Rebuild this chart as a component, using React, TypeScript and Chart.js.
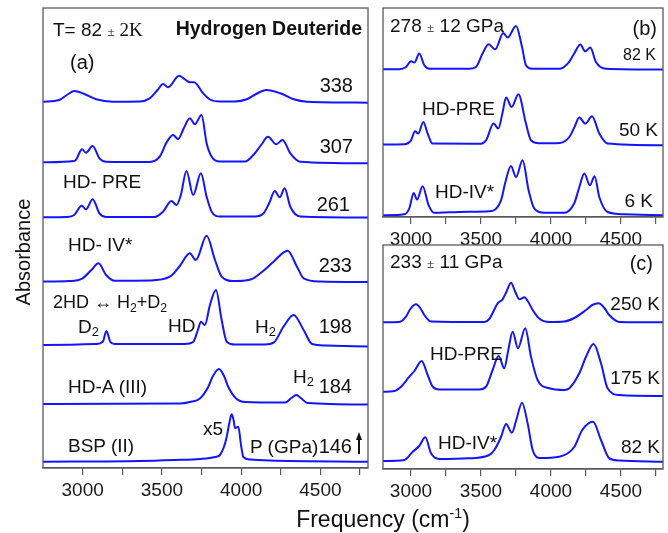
import React, { useEffect, useRef } from "react";
import { Chart, registerables } from "chart.js";
Chart.register(...registerables);

// ---------- Panel (a): T = 82 K, pressure series (GPa) ----------
const a338F = [2750, 2852, 2905, 2947, 3011, 3085, 3190, 3359, 3423, 3473, 3507, 3539, 3608, 3651, 3677, 3703, 3760, 3803, 3866, 3961, 4035, 4094, 4158, 4247, 4331, 4416, 4800];
const a338A = [0.3, 2, 7.5, 11, 8, 2.7, 0.3, 0.5, 3.7, 12, 18, 14.7, 26.3, 22, 19.7, 19.7, 8.7, 2.5, 0.5, 0.5, 2.7, 8, 12, 8.7, 2.7, 0.3, -0.7];
const a307F = [2750, 2947, 2960, 2996, 3021, 3063, 3106, 3148, 3423, 3486, 3530, 3570, 3602, 3638, 3676, 3708, 3750, 3782, 3814, 3866, 4024, 4077, 4126, 4169, 4221, 4261, 4310, 4373, 4800];
const a307A = [0, 1.3, 3, 13, 9.6, 16.3, 4, 0.6, 0.3, 5.6, 20, 27.3, 23.3, 34, 44, 38, 47.3, 19, 5.6, 0.8, 0.8, 7.3, 17.3, 25.6, 18, 22.3, 9, 0.6, -1];
const a261F = [2750, 2903, 2947, 2994, 3021, 3063, 3106, 3148, 3455, 3507, 3560, 3592, 3619, 3655, 3697, 3746, 3782, 3814, 3866, 4088, 4141, 4177, 4212, 4243, 4274, 4310, 4373, 4800];
const a261A = [0, 0.3, 2.3, 11.6, 8, 18, 4, 0.3, 0.3, 5.6, 16.3, 12.3, 22, 46.3, 22.3, 44, 20.6, 5.6, 0.8, 0.8, 4, 14.3, 26.3, 20, 29, 10.6, 0.8, -0.2];
const a233F = [2750, 2916, 3000, 3055, 3100, 3148, 3201, 3423, 3550, 3613, 3676, 3714, 3782, 3835, 3877, 3951, 4025, 4077, 4139, 4204, 4293, 4352, 4394, 4500, 4800];
const a233A = [0, 0.5, 3.2, 11.5, 18.2, 6.5, 0.8, 1, 4.8, 15.5, 28.2, 21.5, 45.8, 21.5, 4.8, 0.5, 1, 3.2, 10.5, 19.8, 30.8, 14.8, 3.2, 0, -0.5];
const a198F = [2750, 3085, 3127, 3150, 3174, 3201, 3644, 3697, 3727, 3746, 3771, 3803, 3841, 3877, 3909, 3961, 4151, 4205, 4267, 4331, 4394, 4447, 4532, 4800];
const a198A = [0, 1, 3.3, 14, 3.3, 1, 1, 3, 15, 23.3, 20, 40, 55, 25, 3.3, 0.5, 0.5, 2.3, 18.3, 30, 15, 1, -0.5, -1.5];
const a184F = [2750, 3613, 3676, 3740, 3792, 3822, 3860, 3892, 3919, 3968, 4025, 4278, 4316, 4348, 4380, 4418, 4800];
const a184A = [0, 0.5, 2, 5.5, 17, 28, 35, 28, 17, 5.5, 2, 1.5, 6, 9, 5.5, 1, -0.5];
const a146F = [2750, 3359, 3581, 3740, 3835, 3866, 3891, 3909, 3924, 3940, 3952, 3961, 3982, 3999, 4014, 4056, 4183, 4800];
const a146A = [0, 0.7, 1.7, 2.7, 4.7, 6.7, 14.7, 25, 37.7, 47.4, 41.7, 33.7, 35, 16.7, 4.7, 2.2, 1.2, 0];
const aOffsets = [366, 305.7, 250.7, 186.5, 123, 64, 6.3];

// ---------- Panel (b): 278 GPa, temperature series ----------
const b82F = [2800, 2916, 2964, 3000, 3024, 3059, 3095, 3131, 3416, 3464, 3511, 3554, 3602, 3659, 3690, 3750, 3793, 3821, 3866, 4059, 4119, 4167, 4209, 4245, 4281, 4321, 4393, 4800];
const b82A = [0, 0, 2.3, 8, 6.7, 15.7, 4, 0.5, 0.5, 2.3, 15.7, 25, 20, 36.3, 31.7, 43.3, 22.3, 4, 0.5, 0.5, 5.7, 16, 24.7, 18, 21.7, 7.3, 0.5, -0.3];
const b50F = [2800, 2952, 3000, 3029, 3052, 3088, 3119, 3154, 3488, 3536, 3590, 3624, 3653, 3679, 3719, 3767, 3821, 3857, 3916, 4059, 4131, 4167, 4202, 4245, 4293, 4345, 4404, 4800];
const b50A = [0, 0.3, 4.3, 13.3, 11, 22.6, 11, 1, 0.8, 4.3, 21, 16, 31.3, 47, 37.6, 50.3, 21, 4.3, 1.3, 1.6, 7.6, 17.3, 27, 21, 28.3, 11, 1, -0.7];
const b6F = [2800, 2952, 2988, 3019, 3043, 3083, 3126, 3166, 3274, 3416, 3559, 3643, 3674, 3714, 3750, 3797, 3840, 3881, 3952, 4095, 4166, 4202, 4238, 4278, 4311, 4345, 4404, 4523, 4800];
const b6A = [0, 1, 7, 22.3, 15.7, 29, 10, 2.5, 3, 3.5, 4, 15, 33, 49.3, 38.3, 55, 25, 6.7, 2.5, 2.5, 12, 28, 41.7, 30, 39, 18.3, 3.3, 1, 0];
const bOffsets = [147.7, 72.4, 1.7];

// ---------- Panel (c): 233 GPa, temperature series ----------
const c250F = [2800, 2916, 2964, 2995, 3036, 3066, 3095, 3143, 3523, 3559, 3619, 3654, 3681, 3714, 3745, 3774, 3809, 3838, 3869, 3916, 3988, 4095, 4166, 4250, 4295, 4340, 4381, 4416, 4488, 4800];
const c250A = [0, 0.3, 5.6, 13.3, 18, 14.3, 7.3, 0.8, 0.3, 3.3, 19, 23, 30.3, 39.6, 30.3, 23, 25, 20.3, 12.3, 3.8, 0.3, 0.8, 4.3, 12.3, 17.3, 19, 14.3, 7.3, 0.3, 0];
const c175F = [2800, 2881, 2929, 2988, 3024, 3076, 3119, 3155, 3202, 3488, 3536, 3583, 3626, 3666, 3695, 3726, 3764, 3816, 3857, 3904, 3988, 4095, 4131, 4202, 4250, 4304, 4357, 4404, 4488, 4800];
const c175A = [0, 0.7, 5, 15, 20.7, 30.7, 16.7, 5, 2.2, 2.2, 5, 21.7, 35.7, 23.4, 41.7, 60, 43.4, 63.4, 35, 11.7, 3.4, 1.7, 3.4, 18.4, 35, 47.7, 28.4, 3.4, -3.3, -4.3];
const c82F = [2800, 2952, 3012, 3059, 3102, 3143, 3202, 3416, 3559, 3595, 3643, 3679, 3721, 3752, 3793, 3833, 3869, 3916, 4059, 4166, 4223, 4300, 4357, 4416, 4488, 4800];
const c82A = [0, 1, 9.3, 15, 23.7, 7.7, 2, 2.7, 6, 11, 24, 37, 28.3, 41, 58.3, 37.7, 11, 3, 4.3, 14, 31, 39.3, 21, 2.7, 0.5, -0.7];
const cOffsets = [146.7, 77.3, 8];

const xTicks = [3000, 3250, 3500, 3750, 4000, 4250, 4500, 4750];

const BLUE = "#1414ff";
const FRAME = "#5a5a5a";
const SANS = "Arial, 'Liberation Sans', Helvetica, sans-serif";
const SERIF = "'Times New Roman', 'Liberation Serif', serif";

type Spec = { f: number[]; a: number[]; off: number };

const framePlugin = {
  id: "frame",
  afterDraw(chart: any) {
    const { ctx, chartArea } = chart;
    ctx.save();
    ctx.strokeStyle = FRAME;
    ctx.lineWidth = 1.3;
    ctx.strokeRect(chartArea.left, chartArea.top, chartArea.right - chartArea.left, chartArea.bottom - chartArea.top);
    ctx.restore();
  },
};

function Panel(props: { specs: Spec[]; xmin: number; xmax: number; ymax: number; left: number; top: number; w: number; h: number; pad: any }) {
  const ref = useRef<HTMLCanvasElement | null>(null);
  useEffect(() => {
    if (!ref.current) return;
    const p = props;
    const chart = new Chart(ref.current, {
      type: "line",
      data: {
        datasets: p.specs.map((s) => ({
          data: s.f.map((x, i) => ({ x, y: s.a[i] + s.off })),
          borderColor: BLUE,
          borderWidth: 2,
          pointRadius: 0,
          cubicInterpolationMode: "monotone" as const,
          fill: false,
        })),
      },
      options: {
        responsive: false,
        animation: false,
        events: [],
        layout: { padding: p.pad },
        plugins: { legend: { display: false }, tooltip: { enabled: false } },
        scales: {
          x: {
            type: "linear",
            min: p.xmin,
            max: p.xmax,
            afterBuildTicks: (s: any) => {
              s.ticks = xTicks.map((v) => ({ value: v }));
            },
            afterFit: (s: any) => {
              s.height = 30;
            },
            ticks: {
              callback: (v: any) => (Number(v) % 500 === 0 ? String(v) : ""),
              font: { size: 19, family: SANS },
              color: "#1a1a1a",
              maxRotation: 0,
              autoSkip: false,
              padding: 4,
            },
            grid: { display: true, drawOnChartArea: false, drawTicks: true, tickLength: 7, color: FRAME, lineWidth: 1.2 },
            border: { display: true, color: FRAME, width: 1.3 },
          },
          y: { type: "linear", display: false, min: 0, max: p.ymax },
        },
      } as any,
      plugins: [framePlugin],
    });
    return () => chart.destroy();
  }, []);
  return (
    <canvas
      ref={ref}
      width={props.w}
      height={props.h}
      style={{ position: "absolute", left: props.left, top: props.top, width: props.w, height: props.h }}
    />
  );
}

function L(props: { x: number; y: number; size?: number; right?: boolean; bold?: boolean; children: any }) {
  const st: any = {
    position: "absolute",
    top: props.y,
    transform: "translateY(-50%)",
    fontFamily: SANS,
    fontSize: props.size ?? 19,
    fontWeight: props.bold ? "bold" : "normal",
    lineHeight: 1,
    whiteSpace: "nowrap",
    color: "#111",
  };
  if (props.right) st.right = 668 - props.x;
  else st.left = props.x;
  return <div style={st}>{props.children}</div>;
}

const sub = { fontSize: "0.68em", verticalAlign: "-0.3em", lineHeight: 0 } as any;
const pm = { fontFamily: SERIF, fontSize: "0.7em" } as any;

export default function App() {
  const aSpecs: Spec[] = [
    { f: a338F, a: a338A, off: aOffsets[0] },
    { f: a307F, a: a307A, off: aOffsets[1] },
    { f: a261F, a: a261A, off: aOffsets[2] },
    { f: a233F, a: a233A, off: aOffsets[3] },
    { f: a198F, a: a198A, off: aOffsets[4] },
    { f: a184F, a: a184A, off: aOffsets[5] },
    { f: a146F, a: a146A, off: aOffsets[6] },
  ];
  const bSpecs: Spec[] = [
    { f: b82F, a: b82A, off: bOffsets[0] },
    { f: b50F, a: b50A, off: bOffsets[1] },
    { f: b6F, a: b6A, off: bOffsets[2] },
  ];
  const cSpecs: Spec[] = [
    { f: c250F, a: c250A, off: cOffsets[0] },
    { f: c175F, a: c175A, off: cOffsets[1] },
    { f: c82F, a: c82A, off: cOffsets[2] },
  ];
  return (
    <div style={{ position: "fixed", left: 0, top: 0, width: 668, height: 533, background: "#fff", overflow: "hidden" }}>
      <Panel specs={aSpecs} xmin={2750} xmax={4800} ymax={460} left={0} top={0} w={380} h={510} pad={{ left: 43, right: 12, top: 8, bottom: 12 }} />
      <Panel specs={bSpecs} xmin={2800} xmax={4800} ymax={209} left={370} top={0} w={298} h={255} pad={{ left: 13, right: 5, top: 8, bottom: 8 }} />
      <Panel specs={cSpecs} xmin={2800} xmax={4800} ymax={224} left={370} top={240} w={298} h={265} pad={{ left: 13, right: 5, top: 5, bottom: 6 }} />

      {/* Panel (a) labels */}
      <L x={53} y={29}>
        T= 82 <span style={pm}>±</span>
        <span style={{ fontFamily: SERIF }}> 2K</span>
      </L>
      <L x={362} y={29} right bold size={19.5}>Hydrogen Deuteride</L>
      <L x={70} y={62} size={20}>(a)</L>
      <L x={353} y={85} right size={20}>338</L>
      <L x={353} y={146} right size={20}>307</L>
      <L x={63} y={181}>HD- PRE</L>
      <L x={350} y={204} right size={20}>261</L>
      <L x={68} y={244}>HD- IV*</L>
      <L x={352} y={265} right size={20}>233</L>
      <L x={53} y={302} size={18}>
        2HD ↔ H<span style={sub}>2</span>+D<span style={sub}>2</span>
      </L>
      <L x={78} y={326}>
        D<span style={sub}>2</span>
      </L>
      <L x={168} y={325}>HD</L>
      <L x={255} y={326}>
        H<span style={sub}>2</span>
      </L>
      <L x={352} y={326} right size={20}>198</L>
      <L x={68} y={386}>HD-A (III)</L>
      <L x={293} y={376}>
        H<span style={sub}>2</span>
      </L>
      <L x={352} y={386} right size={20}>184</L>
      <L x={203} y={428}>x5</L>
      <L x={68} y={445}>BSP (II)</L>
      <L x={250} y={446}>P (GPa)</L>
      <L x={352} y={446} right size={20}>146</L>
      <div style={{ position: "absolute", left: 358.3, top: 438, width: 1.6, height: 16, background: "#111" }} />
      <div
        style={{
          position: "absolute",
          left: 355.5,
          top: 432,
          width: 0,
          height: 0,
          borderLeft: "3.6px solid transparent",
          borderRight: "3.6px solid transparent",
          borderBottom: "8px solid #111",
        }}
      />

      {/* Panel (b) labels */}
      <L x={390} y={25}>
        278 <span style={pm}>±</span> 12 GPa
      </L>
      <L x={657} y={28} right size={20}>(b)</L>
      <L x={656} y={55} right size={16}>82 K</L>
      <L x={422} y={108}>HD-PRE</L>
      <L x={658} y={129} right>50 K</L>
      <L x={435} y={191}>HD-IV*</L>
      <L x={653} y={200} right>6 K</L>

      {/* Panel (c) labels */}
      <L x={390} y={261}>
        233 <span style={pm}>±</span> 11 GPa
      </L>
      <L x={653} y={263} right size={20}>(c)</L>
      <L x={660} y={303} right>250 K</L>
      <L x={430} y={353}>HD-PRE</L>
      <L x={660} y={377} right>175 K</L>
      <L x={438} y={442}>HD-IV*</L>
      <L x={660} y={446} right>82 K</L>

      {/* Axis titles */}
      <div
        style={{
          position: "absolute",
          left: 23,
          top: 252,
          transform: "translate(-50%, -50%) rotate(-90deg)",
          fontFamily: SANS,
          fontSize: 20,
          lineHeight: 1,
          whiteSpace: "nowrap",
          color: "#111",
        }}
      >
        Absorbance
      </div>
      <div
        style={{
          position: "absolute",
          left: 383,
          top: 519,
          transform: "translate(-50%, -50%)",
          fontFamily: SANS,
          fontSize: 23,
          lineHeight: 1,
          whiteSpace: "nowrap",
          color: "#111",
        }}
      >
        Frequency (cm<sup style={{ fontSize: "0.62em", verticalAlign: "0.6em", lineHeight: 0 }}>-1</sup>)
      </div>
    </div>
  );
}
